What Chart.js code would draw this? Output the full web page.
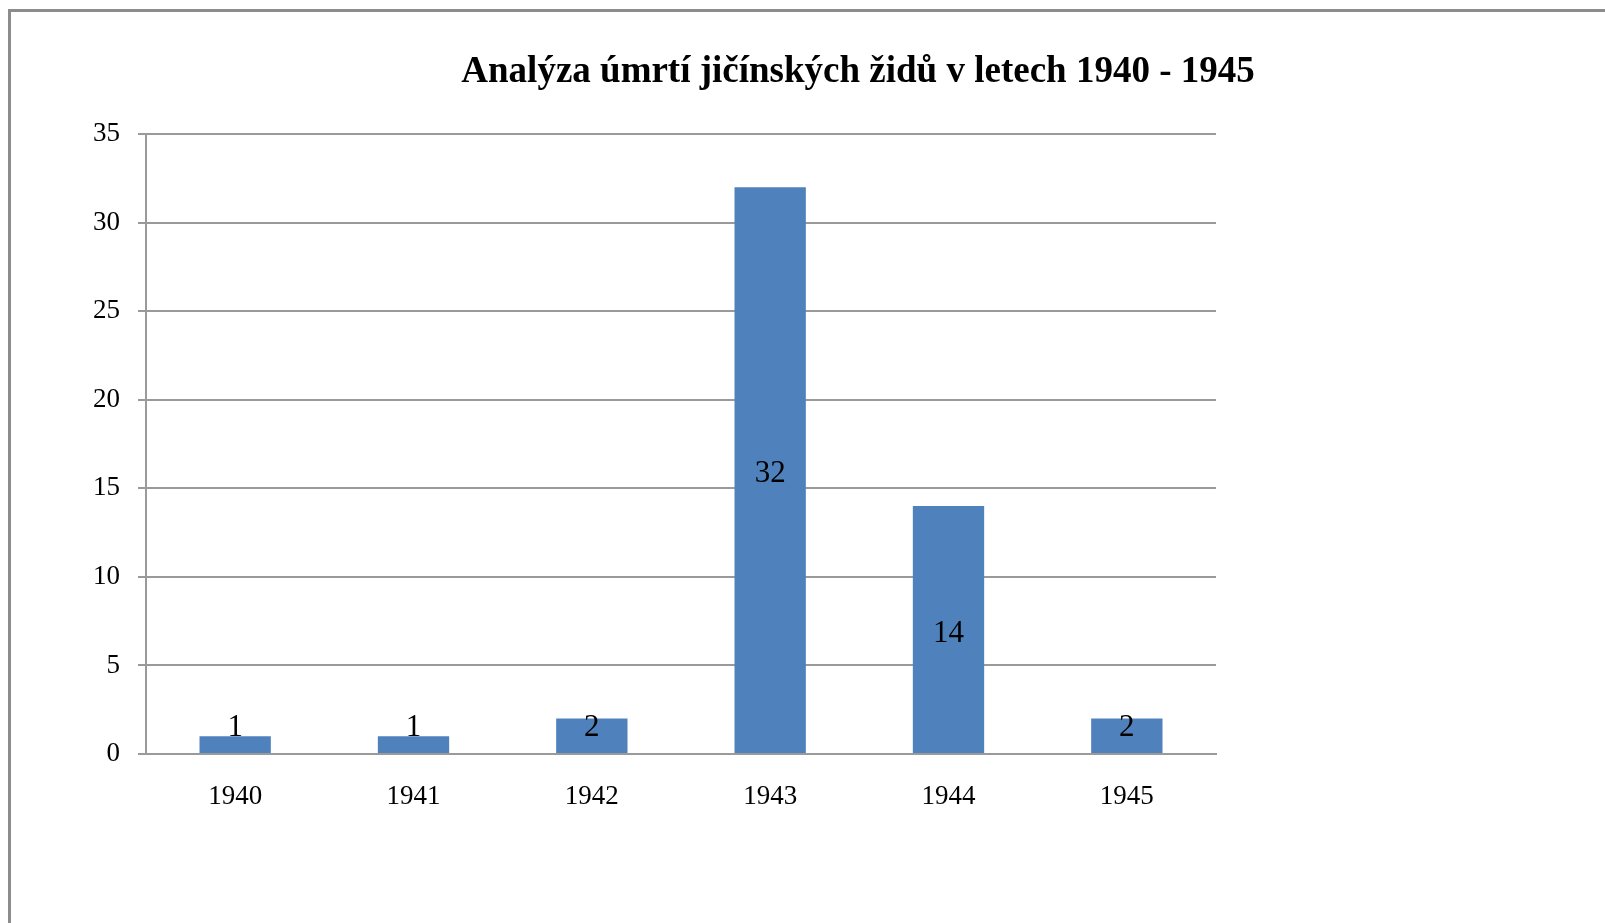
<!DOCTYPE html>
<html lang="cs">
<head>
<meta charset="utf-8">
<title>Analýza úmrtí jičínských židů</title>
<script src="https://cdn.jsdelivr.net/npm/chart.js@4/dist/chart.umd.min.js"></script>
<style>
  html, body { margin: 0; padding: 0; background: #fff; overflow: hidden; }
  #graf { display: block; }
</style>
</head>
<body>
<canvas id="graf" width="1605" height="923"></canvas>
<script>
// Data grafu
const roky = ["1940", "1941", "1942", "1943", "1944", "1945"];
const umrti = [1, 1, 2, 32, 14, 2];
const osaYMax = 35;
const osaYKrok = 5;
const nadpis = "Analýza úmrtí jičínských židů v letech 1940 - 1945";

const pismo = "'Liberation Serif', 'Times New Roman', serif";
const sedaMrizka = "#9a9a9a";

// Rámeček kolem grafu + nadpis
const ramecekPlugin = {
  id: "ramecek",
  beforeDraw(chart) {
    const ctx = chart.ctx;
    ctx.save();
    ctx.fillStyle = "#8c8c8c";
    ctx.fillRect(8, 9, chart.width, 3);
    ctx.fillRect(8, 9, 3, chart.height);
    ctx.restore();
  },
  afterDraw(chart) {
    const ctx = chart.ctx;
    ctx.save();
    ctx.font = "bold 37px " + pismo;
    ctx.fillStyle = "#000";
    ctx.textAlign = "center";
    ctx.textBaseline = "middle";
    ctx.fillText(nadpis, 858, 72);
    ctx.restore();
  }
};

// Popisky hodnot uprostřed sloupců
const popiskyPlugin = {
  id: "popisky",
  afterDatasetsDraw(chart) {
    const ctx = chart.ctx;
    const meta = chart.getDatasetMeta(0);
    const dno = chart.scales.y.bottom;
    ctx.save();
    ctx.font = "31px " + pismo;
    ctx.fillStyle = "#000";
    ctx.textAlign = "center";
    ctx.textBaseline = "middle";
    meta.data.forEach((bar, i) => {
      let y = (bar.y + bar.base) / 2 + 4;
      if (y > dno - 26) y = dno - 26;
      ctx.fillText(String(umrti[i]), bar.x, y);
    });
    ctx.restore();
  }
};

new Chart(document.getElementById("graf"), {
  type: "bar",
  data: {
    labels: roky,
    datasets: [{
      data: umrti,
      backgroundColor: "#4F81BD",
      borderWidth: 0,
      categoryPercentage: 1,
      barPercentage: 0.4
    }]
  },
  options: {
    responsive: false,
    animation: false,
    layout: { padding: { left: 0, top: 134, right: 389, bottom: 0 } },
    plugins: {
      legend: { display: false },
      title: { display: false },
      tooltip: { enabled: false }
    },
    scales: {
      x: {
        grid: { display: false, drawTicks: false },
        border: { display: true, color: sedaMrizka, width: 2 },
        ticks: {
          color: "#000",
          font: { family: pismo, size: 27 },
          padding: 27,
          maxRotation: 0
        },
        afterFit(scale) { scale.height = 923 - 754; }
      },
      y: {
        min: 0,
        max: osaYMax,
        grid: { color: sedaMrizka, lineWidth: 2, tickLength: 8, drawTicks: true },
        border: { display: true, color: sedaMrizka, width: 2 },
        ticks: {
          stepSize: osaYKrok,
          color: "#000",
          font: { family: pismo, size: 27 },
          padding: 18
        },
        afterFit(scale) { scale.width = 146; }
      }
    }
  },
  plugins: [ramecekPlugin, popiskyPlugin]
});
</script>
</body>
</html>
